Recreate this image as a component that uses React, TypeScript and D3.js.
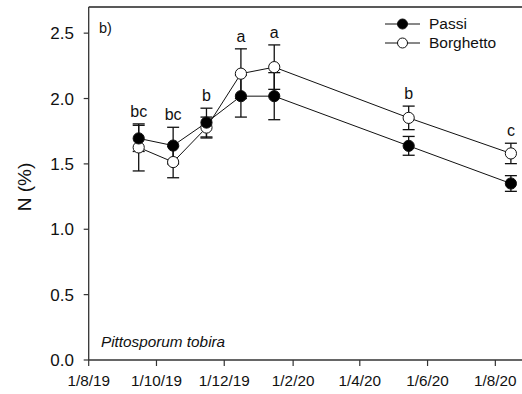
import React from "react";
import * as d3 from "d3";

const WIDTH = 522;
const HEIGHT = 394;
const LEFT = 88.7;
const TOP = 7;
const BOTTOM = 360;

// sampling dates (yyyy-mm-dd)
const dates = ["2019-09-15", "2019-10-16", "2019-11-15", "2019-12-16", "2020-01-15", "2020-05-15", "2020-08-15"];
const passi = [1.695, 1.64, 1.816, 2.018, 2.018, 1.638, 1.35];
const passiErr = [0.1, 0.14, 0.11, 0.16, 0.18, 0.072, 0.06];
const borghetto = [1.626, 1.514, 1.778, 2.19, 2.24, 1.852, 1.58];
const borghettoErr = [0.18, 0.12, 0.08, 0.19, 0.17, 0.09, 0.078];
const letters = ["bc", "bc", "b", "a", "a", "b", "c"];
const xTicks = ["2019-08-01", "2019-10-01", "2019-12-01", "2020-02-01", "2020-04-01", "2020-06-01", "2020-08-01"];
const yTicks = [0, 0.5, 1, 1.5, 2, 2.5];

const parse = d3.timeParse("%Y-%m-%d");
const fmtDate = (d: Date) => `${d.getDate()}/${d.getMonth() + 1}/${String(d.getFullYear()).slice(2)}`;

const App = () => {
  const x = d3.scaleTime()
    .domain([parse("2019-08-01")!, parse("2020-08-25")!])
    .range([LEFT, WIDTH]);
  const y = d3.scaleLinear().domain([0, 2.7]).range([BOTTOM, TOP]);

  const series = [
    { name: "Borghetto", values: borghetto, err: borghettoErr, fill: "#fff" },
    { name: "Passi", values: passi, err: passiErr, fill: "#000" },
  ];

  const line = d3.line<number>()
    .x((_, i) => x(parse(dates[i])!))
    .y((v) => y(v));

  const font = "Arial, 'Liberation Sans', sans-serif";
  const cap = 6;

  return (
    <svg width={WIDTH} height={HEIGHT} style={{ position: "absolute", left: 0, top: 0 }} fontFamily={font}>
      <rect width={WIDTH} height={HEIGHT} fill="#fff" />

      {/* frame */}
      <line x1={LEFT} x2={WIDTH} y1={TOP} y2={TOP} stroke="#222" strokeWidth={1.3} />
      <line x1={LEFT} x2={LEFT} y1={TOP} y2={BOTTOM} stroke="#333" strokeWidth={1.3} />
      <line x1={LEFT} x2={WIDTH} y1={BOTTOM} y2={BOTTOM} stroke="#333" strokeWidth={1.3} />

      {/* y axis */}
      {yTicks.map((t) => (
        <g key={t} transform={`translate(0,${y(t)})`}>
          <line x1={LEFT - 5} x2={LEFT} stroke="#333" strokeWidth={1.2} />
          <text x={74} dy="0.36em" textAnchor="end" fontSize={17} fill="#111">
            {d3.format(".1f")(t)}
          </text>
        </g>
      ))}
      <text transform={`translate(31,187) rotate(-90)`} textAnchor="middle" fontSize={19} fill="#111">
        N (%)
      </text>

      {/* x axis */}
      {xTicks.map((t) => {
        const d = parse(t)!;
        return (
          <g key={t} transform={`translate(${x(d)},${BOTTOM})`}>
            <line y1={0} y2={6} stroke="#333" strokeWidth={1.2} />
            <text y={26.3} textAnchor="middle" fontSize={15.3} fill="#111">
              {fmtDate(d)}
            </text>
          </g>
        );
      })}

      <text x={99} y={33} fontSize={14.5} fill="#111">b)</text>
      <text x={101} y={347} fontSize={15.3} fontStyle="italic" fill="#111">Pittosporum tobira</text>

      {/* series */}
      {series.map((s) => (
        <g key={s.name}>
          <path d={line(s.values) || ""} fill="none" stroke="#111" strokeWidth={1} />
        </g>
      ))}
      {series.map((s) => (
        <g key={s.name + "-pts"}>
          {s.values.map((v, i) => {
            const cx = x(parse(dates[i])!);
            const hi = y(v + s.err[i]);
            const lo = y(v - s.err[i]);
            return (
              <g key={i} stroke="#111" strokeWidth={1.3}>
                <line x1={cx} x2={cx} y1={hi} y2={lo} />
                <line x1={cx - cap} x2={cx + cap} y1={hi} y2={hi} />
                <line x1={cx - cap} x2={cx + cap} y1={lo} y2={lo} />
              </g>
            );
          })}
        </g>
      ))}
      {series.map((s) => (
        <g key={s.name + "-dots"}>
          {s.values.map((v, i) => (
            <circle key={i} cx={x(parse(dates[i])!)} cy={y(v)} r={5.6} fill={s.fill} stroke="#111" strokeWidth={1} />
          ))}
        </g>
      ))}

      {/* significance letters */}
      {letters.map((l, i) => {
        const top = Math.min(y(passi[i] + passiErr[i]), y(borghetto[i] + borghettoErr[i]));
        return (
          <text key={i} x={x(parse(dates[i])!)} y={top - 7} textAnchor="middle" fontSize={16} fill="#111">
            {l}
          </text>
        );
      })}

      {/* legend */}
      {[series[1], series[0]].map((s, i) => (
        <g key={s.name} transform={`translate(385,${24 + i * 19})`}>
          <line x1={0} x2={35} stroke="#111" strokeWidth={1} />
          <circle cx={17.5} r={5} fill={s.fill} stroke="#111" strokeWidth={1} />
          <text x={44} dy="0.35em" fontSize={15.5} fill="#111">{s.name}</text>
        </g>
      ))}
    </svg>
  );
};

export default App;
